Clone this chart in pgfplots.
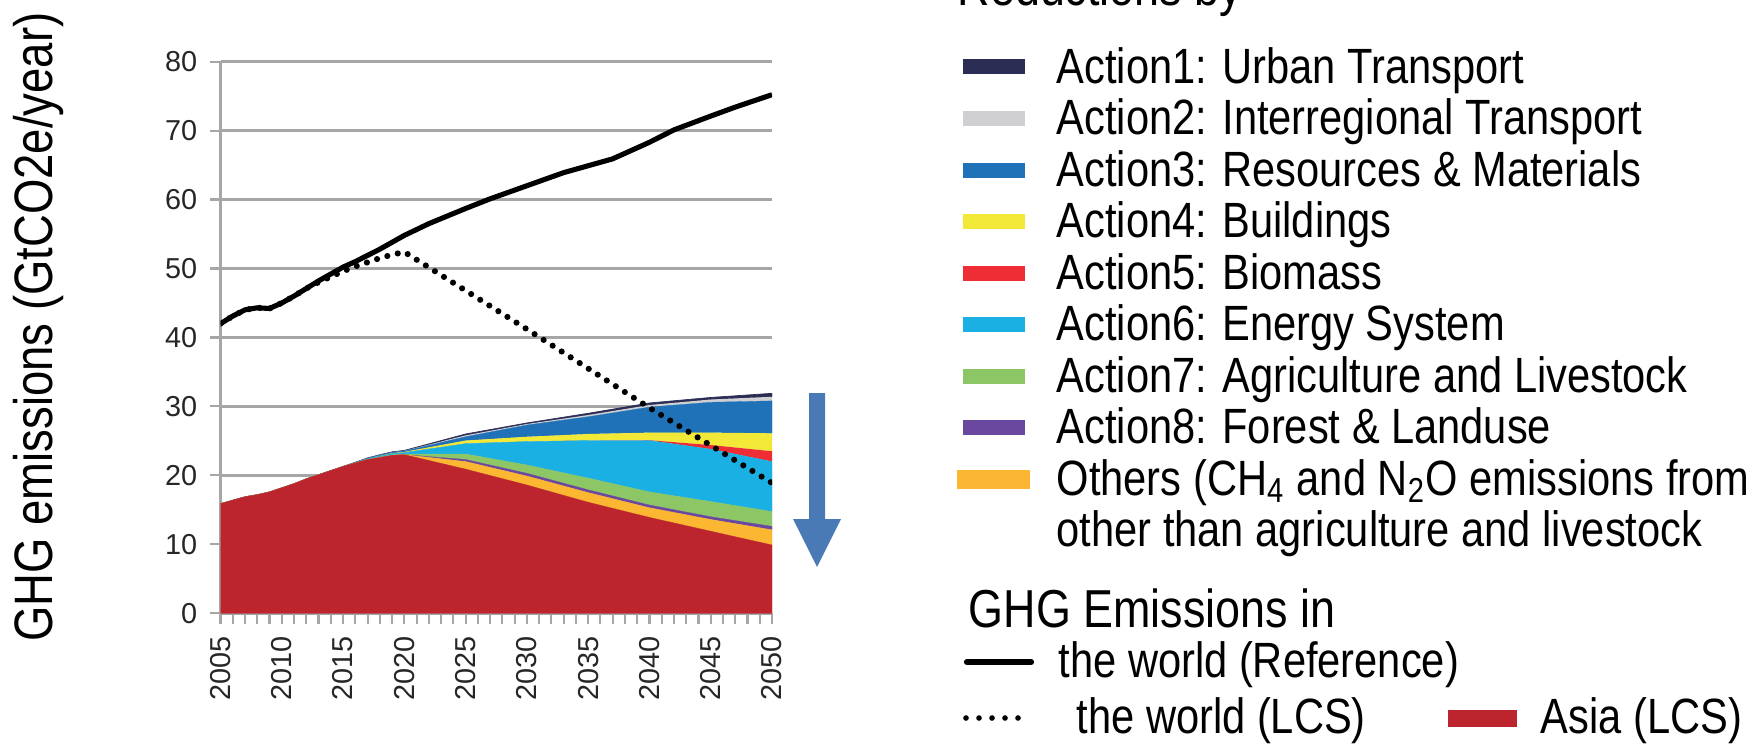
\documentclass[border=0pt]{standalone}
\usepackage{fontspec}
\setmainfont{Liberation Sans}
\newfontfamily\condfont{Liberation Sans}[FakeStretch=0.84]
\usepackage{pgfplots}
\pgfplotsset{compat=1.18}
\usepackage{pgfplotstable}

\definecolor{cA1}{HTML}{2B2D55}
\definecolor{cA2}{HTML}{D0D0D2}
\definecolor{cA3}{HTML}{1F72B8}
\definecolor{cA4}{HTML}{F2E838}
\definecolor{cA5}{HTML}{EE2D34}
\definecolor{cA6}{HTML}{1AB0E3}
\definecolor{cA7}{HTML}{8DC765}
\definecolor{cA8}{HTML}{6A48A0}
\definecolor{cOth}{HTML}{FBB632}
\definecolor{cAsia}{HTML}{BC252D}
\definecolor{arrowc}{HTML}{4A7AB5}
\definecolor{gridc}{HTML}{A6A6A6}

\pgfplotstableread{
year asia oth a8 a7 a6 a5 a4 a3 a2 a1
2005 15.9 0 0 0 0 0 0 0 0 0
2006 16.4 0 0 0 0 0 0 0 0 0
2007 16.9 0 0 0 0 0 0 0 0 0
2008 17.2 0 0 0 0 0 0 0 0 0
2009 17.6 0 0 0 0 0 0 0 0 0
2010 18.2 0 0 0 0 0 0 0 0 0
2011 18.8 0 0 0 0 0 0 0 0 0
2012 19.5 0 0 0 0 0 0 0 0 0
2013 20.1 0 0 0 0 0 0 0 0 0
2014 20.7 0 0 0 0 0 0 0 0 0
2015 21.3 0 0 0 0 0 0 0 0 0
2016 21.8 0 0 0 0.05 0 0 0.05 0 0
2017 22.3 0 0 0.02 0.1 0 0.02 0.06 0.02 0.02
2018 22.6 0 0 0.05 0.15 0 0.05 0.08 0.03 0.03
2019 22.9 0 0 0.07 0.18 0 0.08 0.1 0.04 0.04
2020 23.0 0 0 0.1 0.2 0 0.1 0.12 0.05 0.05
2025 20.9 1.1 0.3 0.8 1.5 0 0.45 0.55 0.2 0.2
2030 18.6 1.3 0.4 1.2 3.4 0 0.7 1.7 0.15 0.15
2035 16.1 1.4 0.4 1.7 5.45 0 0.95 2.5 0.25 0.25
2040 13.9 1.4 0.4 1.9 7.45 0.05 1.1 3.7 0.3 0.3
2045 11.9 1.7 0.4 2.2 7.6 0.6 1.8 4.4 0.4 0.3
2050 9.9 2.2 0.5 2.15 7.25 1.5 2.6 4.7 0.6 0.5
}\stackdata

\pgfplotstableread{
year ref
2005 42.0
2006 43.1
2007 44.0
2008 44.3
2009 44.2
2010 45.0
2011 46.0
2012 47.1
2013 48.2
2014 49.2
2015 50.2
2016 51.0
2017 51.9
2018 52.8
2019 53.8
2020 54.8
2022 56.5
2025 58.7
2027 60.1
2030 62.0
2033 63.9
2035 64.9
2037 65.9
2040 68.3
2042 70.1
2045 72.1
2047 73.4
2050 75.2
}\refdata

\pgfplotstableread{
year lcs
2005 42.0
2006 43.1
2007 44.0
2008 44.3
2009 44.2
2010 45.0
2011 46.0
2012 47.1
2013 48.0
2014 48.8
2015 49.6
2016 50.3
2017 50.9
2018 51.5
2019 52.0
2020 52.4
2030 41.2
2040 29.8
2050 18.9
}\lcsdata

\begin{document}
\begin{tikzpicture}[x=1cm,y=1cm]
\useasboundingbox (0,0) rectangle (17.55,7.44);

\begin{axis}[
  at={(2.205cm,1.307cm)}, anchor=south west,
  scale only axis, width=5.515cm, height=5.517cm,
  xmin=2005, xmax=2050, ymin=0, ymax=80,
  stack plots=y,
  axis x line*=bottom, axis y line*=left,
  axis line style={draw=gridc, line width=0.7pt, -},
  ytick={0,10,...,80},
  xtick={2005,2010,...,2050},
  minor xtick={2005,2006,...,2050},
  tick align=outside,
  major tick length=0.11cm, minor tick length=0.11cm,
  tick style={draw=gridc, line width=0.6pt},
  minor tick style={draw=gridc, line width=0.6pt},
  ymajorgrids,
  major grid style={draw=gridc, line width=0.7pt},
  /pgf/number format/1000 sep={},
  /pgf/number format/assume math mode=true,
  tick label style={font=\fontsize{8.2}{9}\selectfont, text=black!85},
  xticklabel style={rotate=90, anchor=east},
]
\addplot[fill=cAsia, draw=cAsia, line width=0.1pt] table[x=year,y=asia]{\stackdata} \closedcycle;
\addplot[fill=cOth, draw=cOth, line width=0.1pt] table[x=year,y=oth]{\stackdata} \closedcycle;
\addplot[fill=cA8, draw=cA8, line width=0.1pt] table[x=year,y=a8]{\stackdata} \closedcycle;
\addplot[fill=cA7, draw=cA7, line width=0.1pt] table[x=year,y=a7]{\stackdata} \closedcycle;
\addplot[fill=cA6, draw=cA6, line width=0.1pt] table[x=year,y=a6]{\stackdata} \closedcycle;
\addplot[fill=cA5, draw=none] table[x=year,y=a5]{\stackdata} \closedcycle;
\addplot[fill=cA4, draw=none] table[x=year,y=a4]{\stackdata} \closedcycle;
\addplot[fill=cA3, draw=cA3, line width=0.1pt] table[x=year,y=a3]{\stackdata} \closedcycle;
\addplot[fill=cA2, draw=none] table[x=year,y=a2]{\stackdata} \closedcycle;
\addplot[fill=cA1, draw=cA1, line width=0.2pt] table[x=year,y=a1]{\stackdata} \closedcycle;
\end{axis}

\begin{axis}[
  at={(2.205cm,1.307cm)}, anchor=south west,
  scale only axis, width=5.515cm, height=5.517cm,
  xmin=2005, xmax=2050, ymin=0, ymax=80,
  hide axis,
]
\addplot[black, line width=1.75pt, line cap=round, dash pattern=on 0pt off 3.05pt] table[x=year,y=lcs]{\lcsdata};
\addplot[black, line width=1.45pt] table[x=year,y=ref]{\refdata};
\end{axis}

% downward arrow
\fill[arrowc] (8.09,3.51) -- (8.25,3.51) -- (8.25,2.25) -- (8.41,2.25) -- (8.17,1.77) -- (7.93,2.25) -- (8.09,2.25) -- cycle;

% y label
\node[rotate=90, anchor=base, inner sep=0pt, font=\condfont\fontsize{15.4}{18}\selectfont] at (0.52,4.17) {GHG emissions (GtCO2e/year)};

% legend
\begin{scope}[every node/.style={anchor=base west, inner sep=0pt, font=\condfont\fontsize{14.1}{17}\selectfont}]
\node[font=\condfont\fontsize{15.2}{18}\selectfont] at (9.57,7.38) {Reductions by};
\fill[cA1] (9.63,6.695) rectangle (10.25,6.845);
\node at (10.56,6.61) {Action1: Urban Transport};
\fill[cA2] (9.63,6.18) rectangle (10.25,6.33);
\node at (10.56,6.095) {Action2: Interregional Transport};
\fill[cA3] (9.63,5.665) rectangle (10.25,5.815);
\node at (10.56,5.58) {Action3: Resources \& Materials};
\fill[cA4] (9.63,5.15) rectangle (10.25,5.30);
\node at (10.56,5.065) {Action4: Buildings};
\fill[cA5] (9.63,4.635) rectangle (10.25,4.785);
\node at (10.56,4.55) {Action5: Biomass};
\fill[cA6] (9.63,4.12) rectangle (10.25,4.27);
\node at (10.56,4.035) {Action6: Energy System};
\fill[cA7] (9.63,3.605) rectangle (10.25,3.755);
\node at (10.56,3.52) {Action7: Agriculture and Livestock};
\fill[cA8] (9.63,3.09) rectangle (10.25,3.24);
\node at (10.56,3.005) {Action8: Forest \& Landuse};
\fill[cOth] (9.57,2.555) rectangle (10.30,2.745);
\node at (10.56,2.49) {Others (CH\textsubscript{4} and N\textsubscript{2}O emissions from};
\node at (10.56,1.975) {other than agriculture and livestock};
\node[font=\condfont\fontsize{15.2}{18}\selectfont] at (9.68,1.17) {GHG Emissions in};
\draw[black, line width=1.8pt, line cap=round] (9.67,0.82) -- (10.31,0.82);
\node at (10.58,0.67) {the world (Reference)};
\draw[black, line width=1.6pt, line cap=round, dash pattern=on 0pt off 3.7pt] (9.66,0.26) -- (10.31,0.26);
\node at (10.76,0.11) {the world (LCS)};
\fill[cAsia] (14.48,0.175) rectangle (15.17,0.345);
\node at (15.40,0.11) {Asia (LCS)};
\end{scope}
\end{tikzpicture}
\end{document}
